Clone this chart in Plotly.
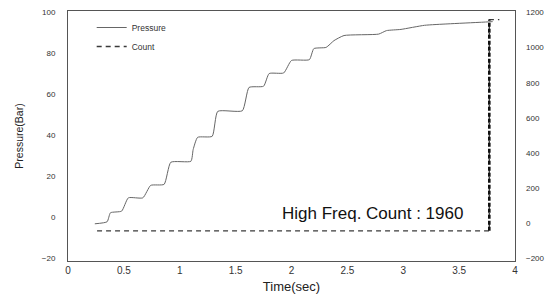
import plotly.graph_objects as go

# Pressure (left axis)
pressure_time = [0.24, 0.35, 0.38, 0.48, 0.54, 0.67, 0.74, 0.86, 0.92, 1.10, 1.12, 1.16, 1.29,
                 1.34, 1.56, 1.62, 1.75, 1.80, 1.93, 2.00, 2.16, 2.20, 2.31, 2.38, 2.47,
                 2.78, 2.85, 2.98, 3.19, 3.40, 3.70, 3.80]
pressure_bar = [-3.3, -2.3, 2.1, 2.9, 9.4, 9.4, 15.5, 16.0, 26.8, 27.3, 33.0, 39.0, 39.5,
                51.7, 52.0, 63.4, 64.0, 70.2, 70.5, 76.6, 77.0, 82.4, 83.0, 86.3, 88.8,
                89.5, 91.2, 91.8, 93.8, 94.5, 95.3, 95.6]

# Count (right axis)
count_time = [0.26, 3.77, 3.77, 3.86]
count_value = [-45, -45, 1160, 1160]

x_ticks = [0, 0.5, 1, 1.5, 2, 2.5, 3, 3.5, 4]
x_tick_text = ["0", "0.5", "1", "1.5", "2", "2.5", "3", "3.5", "4"]
y_ticks = [-20, 0, 20, 40, 60, 80, 100]
y2_ticks = [-200, 0, 200, 400, 600, 800, 1000, 1200]

annotation_text = "High Freq. Count : 1960"

font = "Liberation Sans, Arial, sans-serif"

fig = go.Figure()
fig.add_trace(go.Scatter(x=pressure_time, y=pressure_bar, mode="lines", name="Pressure",
                         line=dict(color="#666666", width=1, shape="spline", smoothing=0.5)))
fig.add_trace(go.Scatter(x=count_time, y=count_value, mode="lines", name="Count", yaxis="y2",
                         line=dict(color="#3a3a3a", width=1.3, dash="5px,4px")))
fig.add_trace(go.Scatter(x=count_time[1:3], y=count_value[1:3], mode="lines", yaxis="y2",
                         showlegend=False, hoverinfo="skip",
                         line=dict(color="#111111", width=2.6, dash="4px,2px")))

fig.add_annotation(x=1.90, y=1.5, xref="x", yref="y", text=annotation_text, showarrow=False,
                   xanchor="left", yanchor="middle",
                   font=dict(family=font, size=17, color="#111111"))

fig.update_layout(
    width=550, height=295,
    margin=dict(l=68, r=35, t=11, b=34),
    paper_bgcolor="white", plot_bgcolor="white",
    font=dict(family=font, size=8, color="#333333"),
    showlegend=True,
    legend=dict(x=0.053, y=0.992, xanchor="left", yanchor="top", bgcolor="rgba(0,0,0,0)",
                font=dict(size=8.5, color="#333333"), itemwidth=30, tracegroupgap=0),
    xaxis=dict(range=[0, 4], tickvals=x_ticks, ticktext=x_tick_text, showgrid=False,
               zeroline=False, showline=True, linecolor="#555555", linewidth=1, mirror=True,
               ticks="", automargin=False, tickfont=dict(size=10),
               title=dict(text="Time(sec)", font=dict(size=13, color="#222222"), standoff=6)),
    yaxis=dict(range=[-21.5, 100.8], tickvals=y_ticks, showgrid=False, zeroline=False,
               showline=True, linecolor="#555555", linewidth=1, mirror=True, ticks="",
               automargin=False, ticklabelstandoff=10,
               title=dict(text="Pressure(Bar)", font=dict(size=10.5, color="#222222"), standoff=16)),
    yaxis2=dict(overlaying="y", side="right", range=[-200 - 1.5 * 1400 / 120, 1200 + 0.8 * 1400 / 120],
                tickvals=y2_ticks, showgrid=False, zeroline=False, showline=False, ticks="",
                automargin=False, ticklabelstandoff=10, tickfont=dict(size=8, color="#333333")),
)

fig.write_html("out.html", config={"displayModeBar": False},
               post_script="document.body.style.margin='0';")
